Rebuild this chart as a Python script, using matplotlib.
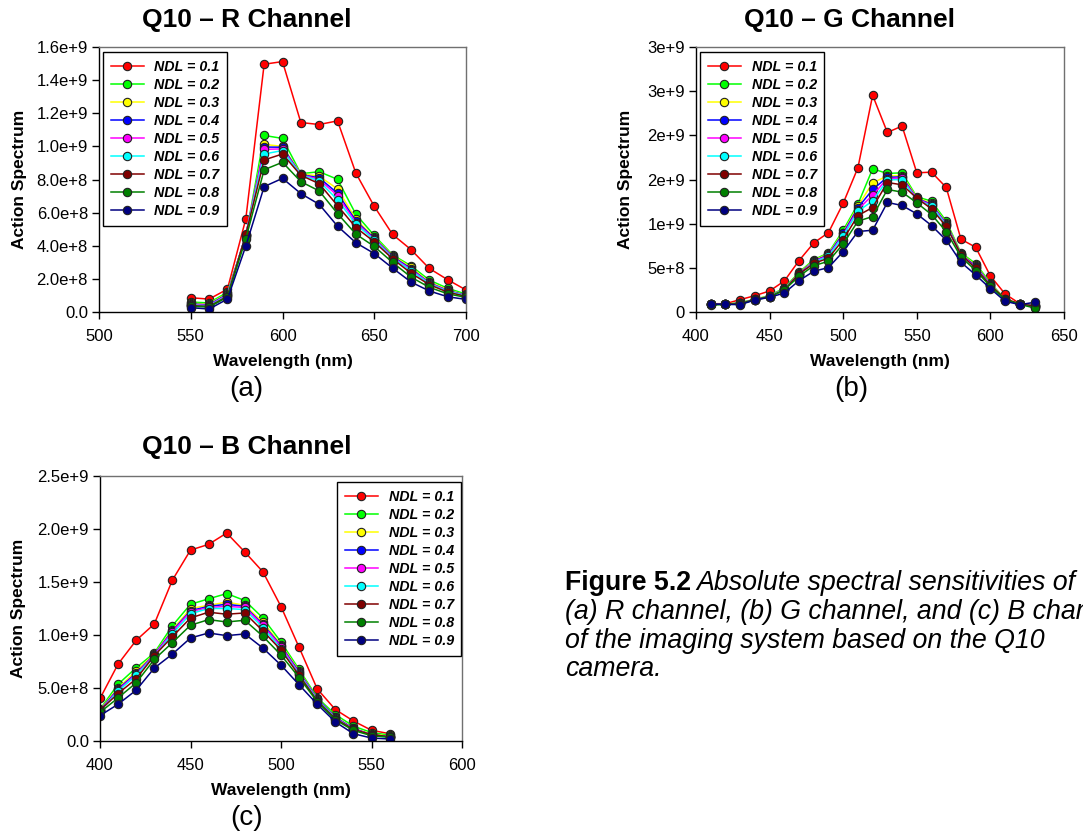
import matplotlib
matplotlib.use("Agg")
import matplotlib.pyplot as plt

plt.rcParams["font.family"] = ["Liberation Sans", "DejaVu Sans"]

SCALE = 1e9  # values below are in units of 1e9

ndl_labels = ["NDL = 0.1", "NDL = 0.2", "NDL = 0.3", "NDL = 0.4", "NDL = 0.5",
              "NDL = 0.6", "NDL = 0.7", "NDL = 0.8", "NDL = 0.9"]
ndl_colors = ["#FF0000", "#00FF00", "#FFFF00", "#0000FF", "#FF00FF",
              "#00FFFF", "#800000", "#008000", "#000080"]

# ---- R channel ----
r_wavelength = [550, 560, 570, 580, 590, 600, 610, 620, 630, 640, 650, 660, 670, 680, 690, 700]
r_series = [
    [0.086, 0.078, 0.138, 0.562, 1.496, 1.512, 1.144, 1.132, 1.154, 0.838, 0.638, 0.468, 0.377, 0.263, 0.195, 0.133],
    [0.060, 0.055, 0.120, 0.455, 1.066, 1.048, 0.835, 0.847, 0.801, 0.590, 0.462, 0.345, 0.279, 0.193, 0.143, 0.108],
    [0.052, 0.048, 0.112, 0.460, 1.012, 1.000, 0.835, 0.820, 0.743, 0.560, 0.450, 0.340, 0.270, 0.180, 0.135, 0.100],
    [0.048, 0.044, 0.108, 0.462, 0.996, 0.995, 0.830, 0.810, 0.717, 0.550, 0.445, 0.335, 0.262, 0.176, 0.130, 0.100],
    [0.045, 0.040, 0.104, 0.465, 0.982, 0.985, 0.830, 0.800, 0.703, 0.540, 0.440, 0.330, 0.256, 0.174, 0.128, 0.098],
    [0.042, 0.037, 0.100, 0.466, 0.954, 0.975, 0.828, 0.790, 0.677, 0.530, 0.435, 0.325, 0.250, 0.170, 0.125, 0.097],
    [0.038, 0.034, 0.095, 0.468, 0.918, 0.954, 0.825, 0.775, 0.642, 0.510, 0.424, 0.321, 0.235, 0.165, 0.120, 0.094],
    [0.034, 0.030, 0.090, 0.442, 0.859, 0.904, 0.787, 0.731, 0.594, 0.470, 0.396, 0.299, 0.211, 0.149, 0.110, 0.088],
    [0.026, 0.018, 0.078, 0.398, 0.757, 0.807, 0.715, 0.650, 0.518, 0.418, 0.353, 0.265, 0.181, 0.127, 0.092, 0.076],
]
r_xticks = [500, 550, 600, 650, 700]
r_yticks = [0.0, 0.2, 0.4, 0.6, 0.8, 1.0, 1.2, 1.4, 1.6]
r_ytick_labels = ["0.0", "2.0e+8", "4.0e+8", "6.0e+8", "8.0e+8", "1.0e+9", "1.2e+9", "1.4e+9", "1.6e+9"]

# ---- G channel ----
g_wavelength = [410, 420, 430, 440, 450, 460, 470, 480, 490, 500, 510, 520,
                530, 540, 550, 560, 570, 580, 590, 600, 610, 620, 630]
g_series = [
    [0.094, 0.094, 0.140, 0.185, 0.238, 0.351, 0.582, 0.782, 0.899, 1.232, 1.633, 2.453, 2.033, 2.105, 1.576, 1.583, 1.410, 0.824, 0.733, 0.408, 0.204, 0.094, 0.080],
    [0.085, 0.088, 0.105, 0.145, 0.185, 0.272, 0.450, 0.593, 0.669, 0.926, 1.221, 1.621, 1.568, 1.576, 1.304, 1.255, 1.028, 0.669, 0.548, 0.329, 0.145, 0.090, 0.057],
    [0.085, 0.088, 0.103, 0.142, 0.180, 0.265, 0.440, 0.582, 0.660, 0.900, 1.200, 1.462, 1.540, 1.545, 1.295, 1.230, 1.010, 0.660, 0.530, 0.320, 0.140, 0.090, 0.060],
    [0.086, 0.088, 0.100, 0.140, 0.177, 0.260, 0.432, 0.575, 0.650, 0.890, 1.180, 1.387, 1.525, 1.530, 1.285, 1.220, 1.000, 0.652, 0.520, 0.312, 0.138, 0.088, 0.065],
    [0.087, 0.088, 0.098, 0.140, 0.175, 0.258, 0.428, 0.570, 0.640, 0.872, 1.160, 1.323, 1.510, 1.515, 1.280, 1.210, 0.990, 0.645, 0.510, 0.308, 0.136, 0.088, 0.070],
    [0.087, 0.088, 0.097, 0.140, 0.173, 0.255, 0.422, 0.562, 0.630, 0.860, 1.140, 1.258, 1.495, 1.500, 1.270, 1.200, 0.980, 0.640, 0.500, 0.302, 0.135, 0.088, 0.075],
    [0.088, 0.088, 0.095, 0.142, 0.172, 0.250, 0.430, 0.550, 0.610, 0.820, 1.092, 1.183, 1.466, 1.440, 1.289, 1.168, 0.971, 0.650, 0.495, 0.300, 0.150, 0.090, 0.070],
    [0.080, 0.085, 0.090, 0.138, 0.170, 0.250, 0.404, 0.525, 0.574, 0.771, 1.028, 1.081, 1.387, 1.357, 1.236, 1.103, 0.911, 0.624, 0.469, 0.290, 0.140, 0.087, 0.045],
    [0.090, 0.087, 0.083, 0.136, 0.166, 0.215, 0.355, 0.461, 0.503, 0.684, 0.911, 0.926, 1.240, 1.206, 1.111, 0.979, 0.813, 0.563, 0.419, 0.265, 0.121, 0.083, 0.110],
]
g_xticks = [400, 450, 500, 550, 600, 650]
g_yticks = [0.0, 0.5, 1.0, 1.5, 2.0, 2.5, 3.0]
g_ytick_labels = ["0", "5e+8", "1e+9", "2e+9", "2e+9", "3e+9", "3e+9"]

# ---- B channel ----
b_wavelength = [400, 410, 420, 430, 440, 450, 460, 470, 480, 490, 500, 510, 520, 530, 540, 550, 560]
b_series = [
    [0.401, 0.726, 0.950, 1.104, 1.518, 1.801, 1.855, 1.962, 1.783, 1.596, 1.268, 0.883, 0.492, 0.297, 0.189, 0.101, 0.069],
    [0.300, 0.536, 0.691, 0.830, 1.088, 1.290, 1.341, 1.391, 1.325, 1.161, 0.934, 0.675, 0.410, 0.250, 0.140, 0.080, 0.055],
    [0.295, 0.500, 0.660, 0.820, 1.050, 1.250, 1.280, 1.310, 1.280, 1.120, 0.910, 0.660, 0.400, 0.230, 0.120, 0.065, 0.045],
    [0.290, 0.490, 0.640, 0.815, 1.040, 1.230, 1.270, 1.290, 1.270, 1.100, 0.900, 0.650, 0.398, 0.225, 0.118, 0.060, 0.040],
    [0.285, 0.480, 0.630, 0.810, 1.030, 1.220, 1.260, 1.270, 1.260, 1.090, 0.890, 0.640, 0.392, 0.220, 0.112, 0.060, 0.040],
    [0.280, 0.470, 0.620, 0.800, 1.010, 1.200, 1.250, 1.250, 1.240, 1.070, 0.870, 0.630, 0.388, 0.215, 0.110, 0.055, 0.035],
    [0.290, 0.448, 0.587, 0.805, 0.984, 1.161, 1.215, 1.196, 1.208, 1.038, 0.858, 0.620, 0.380, 0.210, 0.110, 0.060, 0.040],
    [0.270, 0.407, 0.549, 0.770, 0.928, 1.092, 1.145, 1.123, 1.139, 0.988, 0.811, 0.599, 0.370, 0.200, 0.100, 0.050, 0.035],
    [0.240, 0.347, 0.480, 0.688, 0.820, 0.972, 1.019, 0.994, 1.010, 0.877, 0.716, 0.530, 0.347, 0.180, 0.069, 0.028, 0.019],
]
b_xticks = [400, 450, 500, 550, 600]
b_yticks = [0.0, 0.5, 1.0, 1.5, 2.0, 2.5]
b_ytick_labels = ["0.0", "5.0e+8", "1.0e+9", "1.5e+9", "2.0e+9", "2.5e+9"]

titles = ["Q10 \u2013 R Channel", "Q10 \u2013 G Channel", "Q10 \u2013 B Channel"]
panel_tags = ["(a)", "(b)", "(c)"]

W, H = 1083, 836
fig = plt.figure(figsize=(W / 100, H / 100), dpi=100)


def px_axes(left, top, right, bottom):
    return fig.add_axes([left / W, 1 - bottom / H, (right - left) / W, (bottom - top) / H])


def draw_panel(ax, wl, series, xticks, yticks, ylabels, legend_box, ylab_x):
    for vals, lab, col in zip(series, ndl_labels, ndl_colors):
        ax.plot(wl, [v * SCALE for v in vals], color=col, lw=1.1, marker="o",
                markersize=6, markerfacecolor=col, markeredgecolor="#222222",
                markeredgewidth=0.8, label=lab)
    ax.set_xlim(xticks[0], xticks[-1])
    ax.set_ylim(yticks[0] * SCALE, yticks[-1] * SCALE)
    ax.set_xticks(xticks)
    ax.set_xticklabels([str(t) for t in xticks])
    ax.set_yticks([t * SCALE for t in yticks])
    ax.set_yticklabels(ylabels)
    ax.tick_params(direction="out", length=5, width=1, labelsize=12, pad=3,
                   top=False, right=False)
    ax.tick_params(axis="x", pad=7)
    for s in ("left", "bottom"):
        ax.spines[s].set_color("black")
        ax.spines[s].set_linewidth(1.0)
    for s in ("top", "right"):
        ax.spines[s].set_color("#707070")
        ax.spines[s].set_linewidth(1.0)
    ax.set_xlabel("Wavelength (nm)", fontsize=12.5, fontweight="bold")
    ax.set_ylabel("Action Spectrum", fontsize=12.5, fontweight="bold")
    ax.xaxis.set_label_coords(0.5, -0.16)
    ax.yaxis.set_label_coords(ylab_x, 0.5)
    leg = ax.legend(loc="upper left",
                    bbox_to_anchor=(legend_box[0] / W, 1 - legend_box[1] / H),
                    bbox_transform=fig.transFigure, borderaxespad=0,
                    prop={"weight": "bold", "style": "italic", "size": 10.3},
                    handlelength=2.3, handletextpad=0.75, labelspacing=0.28,
                    borderpad=0.55, fancybox=False, framealpha=1,
                    edgecolor="black")
    leg.get_frame().set_linewidth(1.0)


ax_r = px_axes(99, 47, 466, 312)
draw_panel(ax_r, r_wavelength, r_series, r_xticks, r_yticks, r_ytick_labels,
           (103, 52), -0.195)

ax_g = px_axes(696, 47, 1064, 312)
draw_panel(ax_g, g_wavelength, g_series, g_xticks, g_yticks, g_ytick_labels,
           (700, 52), -0.17)

ax_b = px_axes(100, 476, 462, 741)
draw_panel(ax_b, b_wavelength, b_series, b_xticks, b_yticks, b_ytick_labels,
           (337, 482), -0.205)

# titles and panel tags
for (x, y), t in zip([(247, 20), (850, 20), (247, 447)], titles):
    fig.text(x / W, 1 - y / H, t, ha="center", va="center", fontsize=19, fontweight="bold")
for (x, y), t in zip([(246, 389), (851, 389), (247, 818)], panel_tags):
    fig.text(x / W, 1 - y / H, t, ha="center", va="center", fontsize=20)

# figure caption (second line runs past the right edge of the page)
cap_x = 565
cap_size = 19.3
first = fig.text(cap_x / W, 1 - 583 / H, "Figure 5.2", ha="left", va="center",
                 fontsize=cap_size, fontweight="bold")
fig.canvas.draw()
bb = first.get_window_extent(renderer=fig.canvas.get_renderer())
fig.text((bb.x1 + 5) / W, 1 - 583 / H, "Absolute spectral sensitivities of",
         ha="left", va="center", fontsize=cap_size, fontstyle="italic")
caption_lines = ["(a) R channel, (b) G channel, and (c) B channels",
                 "of the imaging system based on the Q10",
                 "camera."]
for y, line in zip([612, 641, 669], caption_lines):
    fig.text(cap_x / W, 1 - y / H, line, ha="left", va="center",
             fontsize=cap_size, fontstyle="italic")

fig.savefig("out.png", dpi=100)
